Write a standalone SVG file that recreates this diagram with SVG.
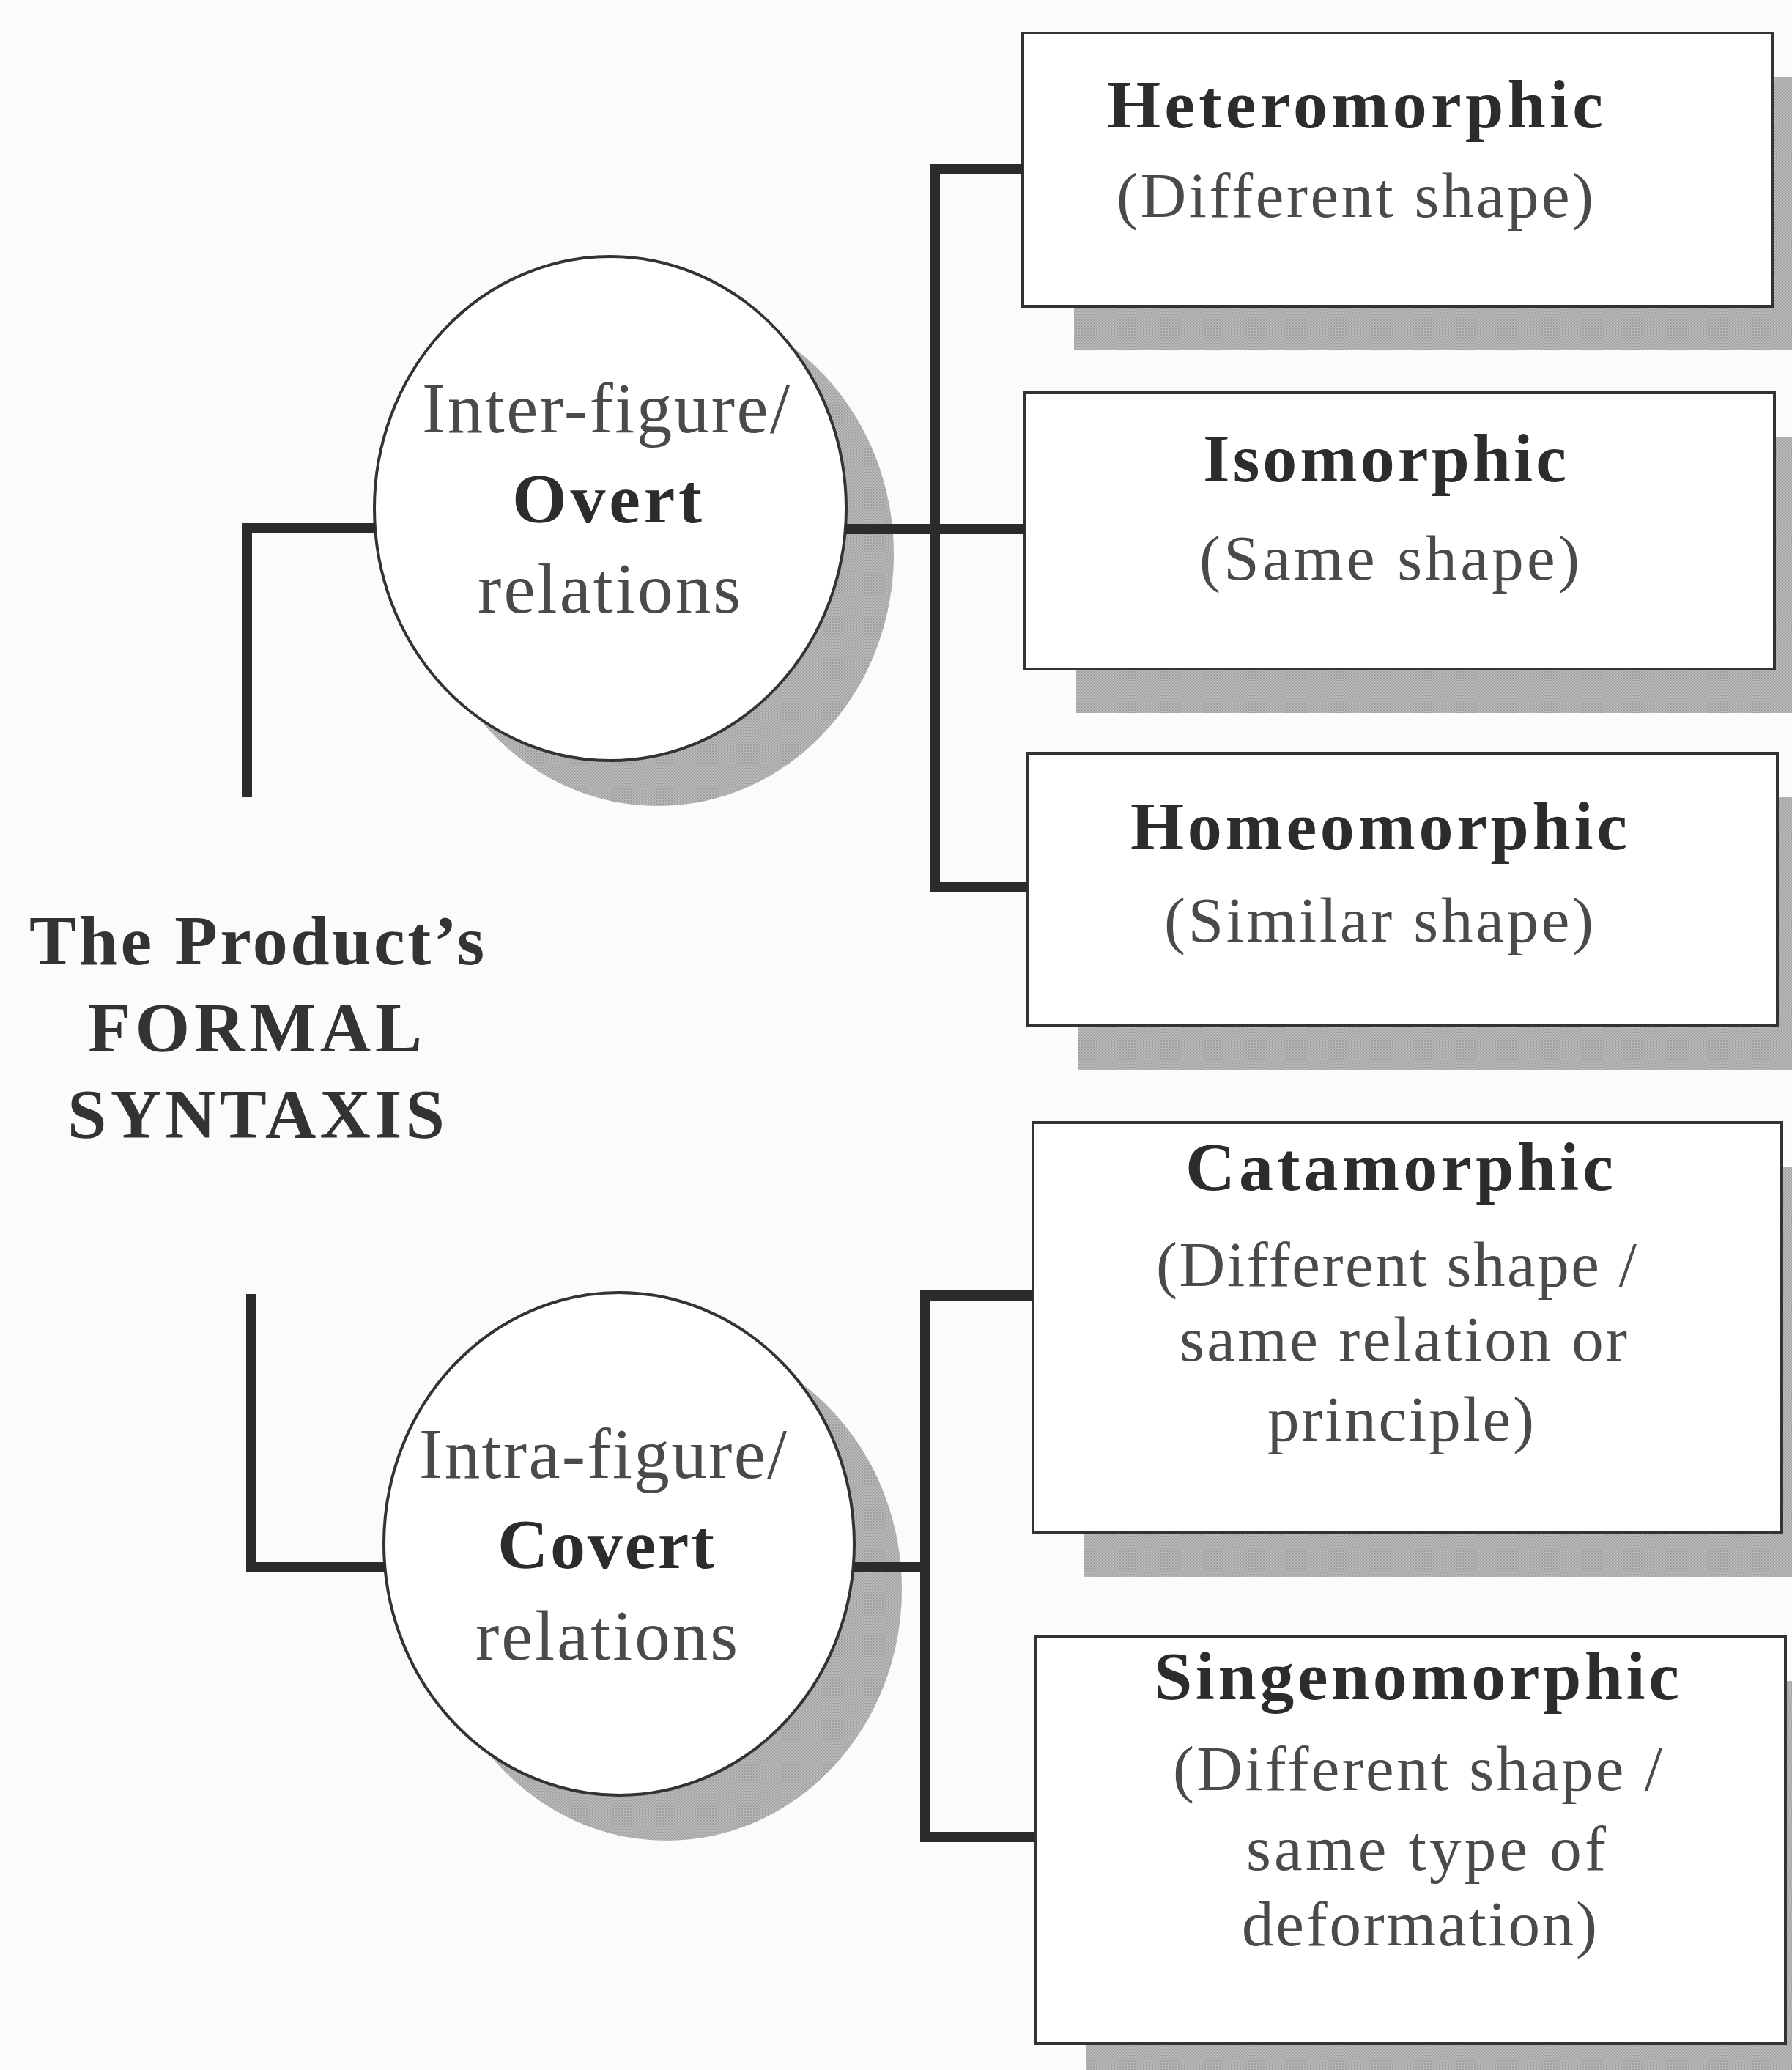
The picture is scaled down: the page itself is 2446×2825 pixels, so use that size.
<svg xmlns="http://www.w3.org/2000/svg" width="2446" height="2825" viewBox="0 0 2446 2825">
  <defs>
    <!-- fine halftone texture used for the drop shadows -->
    <pattern id="hatch" width="4" height="4" patternUnits="userSpaceOnUse">
      <rect width="4" height="4" fill="#bbbbbb"/>
      <rect width="2" height="2" fill="#9e9e9e"/>
      <rect x="2" y="2" width="2" height="2" fill="#a6a6a6"/>
    </pattern>
    <style>
      .shadow { fill: url(#hatch); stroke: none; }
      .box { fill: #ffffff; stroke: #333333; stroke-width: 4; }
      .disc { fill: #ffffff; stroke: #333333; stroke-width: 4; }
      .link { fill: none; stroke: #2b2b2b; stroke-width: 14; stroke-linejoin: miter; stroke-linecap: butt; }
      .head { font-family: "Liberation Serif", "Times New Roman", serif; font-weight: bold; font-size: 94px; fill: #2c2c2c; }
      .sub { font-family: "Liberation Serif", "Times New Roman", serif; font-size: 87px; fill: #4a4a4a; }
      .rel { font-family: "Liberation Serif", "Times New Roman", serif; font-size: 97px; fill: #4a4a4a; }
      .relb { font-family: "Liberation Serif", "Times New Roman", serif; font-weight: bold; font-size: 96px; fill: #2c2c2c; }
      .title { font-family: "Liberation Serif", "Times New Roman", serif; font-weight: bold; font-size: 96px; fill: #333333; }
    </style>
  </defs>

  <rect width="2446" height="2825" fill="#fbfbfb"/>

  <!-- root label -->
  <g id="root">
    <text class="title" x="40" y="1316" textLength="621" lengthAdjust="spacing">The Product’s</text>
    <text class="title" x="120" y="1435" textLength="456" lengthAdjust="spacing">FORMAL</text>
    <text class="title" x="92" y="1553" textLength="515" lengthAdjust="spacing">SYNTAXIS</text>
  </g>

  <!-- overt relations -->
  <g id="overt">
    <ellipse class="shadow" cx="898" cy="756" rx="322" ry="344"/>
    <ellipse class="disc" cx="833" cy="694" rx="322" ry="344"/>
    <text class="rel" x="576" y="590" textLength="502" lengthAdjust="spacing">Inter-figure/</text>
    <text class="relb" x="699" y="713" textLength="259" lengthAdjust="spacing">Overt</text>
    <text class="rel" x="652" y="836" textLength="359" lengthAdjust="spacing">relations</text>
  </g>

  <!-- covert relations -->
  <g id="covert">
    <ellipse class="shadow" cx="910" cy="2169" rx="321" ry="343"/>
    <ellipse class="disc" cx="845" cy="2107" rx="321" ry="343"/>
    <text class="rel" x="572" y="2017" textLength="502" lengthAdjust="spacing">Intra-figure/</text>
    <text class="relb" x="679" y="2140" textLength="296" lengthAdjust="spacing">Covert</text>
    <text class="rel" x="649" y="2265" textLength="358" lengthAdjust="spacing">relations</text>
  </g>

  <g id="heteromorphic">
    <rect class="shadow" x="1466" y="105" width="1023" height="373"/>
    <rect class="box" x="1396" y="45" width="1023" height="373"/>
    <text class="head" x="1511" y="174" textLength="677" lengthAdjust="spacing">Heteromorphic</text>
    <text class="sub" x="1524" y="296" textLength="651" lengthAdjust="spacing">(Different shape)</text>
  </g>

  <g id="isomorphic">
    <rect class="shadow" x="1469" y="596" width="1023" height="377"/>
    <rect class="box" x="1399" y="536" width="1023" height="377"/>
    <text class="head" x="1642" y="657" textLength="496" lengthAdjust="spacing">Isomorphic</text>
    <text class="sub" x="1637" y="791" textLength="519" lengthAdjust="spacing">(Same shape)</text>
  </g>

  <g id="homeomorphic">
    <rect class="shadow" x="1472" y="1088" width="1024" height="372"/>
    <rect class="box" x="1402" y="1028" width="1024" height="372"/>
    <text class="head" x="1543" y="1159" textLength="678" lengthAdjust="spacing">Homeomorphic</text>
    <text class="sub" x="1589" y="1285" textLength="586" lengthAdjust="spacing">(Similar shape)</text>
  </g>

  <g id="catamorphic">
    <rect class="shadow" x="1480" y="1592" width="1022" height="560"/>
    <rect class="box" x="1410" y="1532" width="1022" height="560"/>
    <text class="head" x="1618" y="1624" textLength="584" lengthAdjust="spacing">Catamorphic</text>
    <text class="sub" x="1578" y="1755" textLength="656" lengthAdjust="spacing">(Different shape /</text>
    <text class="sub" x="1610" y="1857" textLength="611" lengthAdjust="spacing">same relation or</text>
    <text class="sub" x="1730" y="1966" textLength="364" lengthAdjust="spacing">principle)</text>
  </g>

  <g id="singenomorphic">
    <rect class="shadow" x="1483" y="2294" width="1024" height="555"/>
    <rect class="box" x="1413" y="2234" width="1024" height="555"/>
    <text class="head" x="1575" y="2319" textLength="717" lengthAdjust="spacing">Singenomorphic</text>
    <text class="sub" x="1601" y="2443" textLength="668" lengthAdjust="spacing">(Different shape /</text>
    <text class="sub" x="1701" y="2552" textLength="491" lengthAdjust="spacing">same type of</text>
    <text class="sub" x="1695" y="2655" textLength="485" lengthAdjust="spacing">deformation)</text>
  </g>

  <!-- tree connectors -->
  <g id="connectors">
    <path class="link" d="M337,1088 V721 H512"/>
    <path class="link" d="M1154,722 H1399"/>
    <path class="link" d="M1396,231 H1276 V1211 H1402"/>
    <path class="link" d="M343,1766 V2139 H525"/>
    <path class="link" d="M1165,2139 H1263"/>
    <path class="link" d="M1410,1768 H1263 V2507 H1413"/>
  </g>
</svg>
